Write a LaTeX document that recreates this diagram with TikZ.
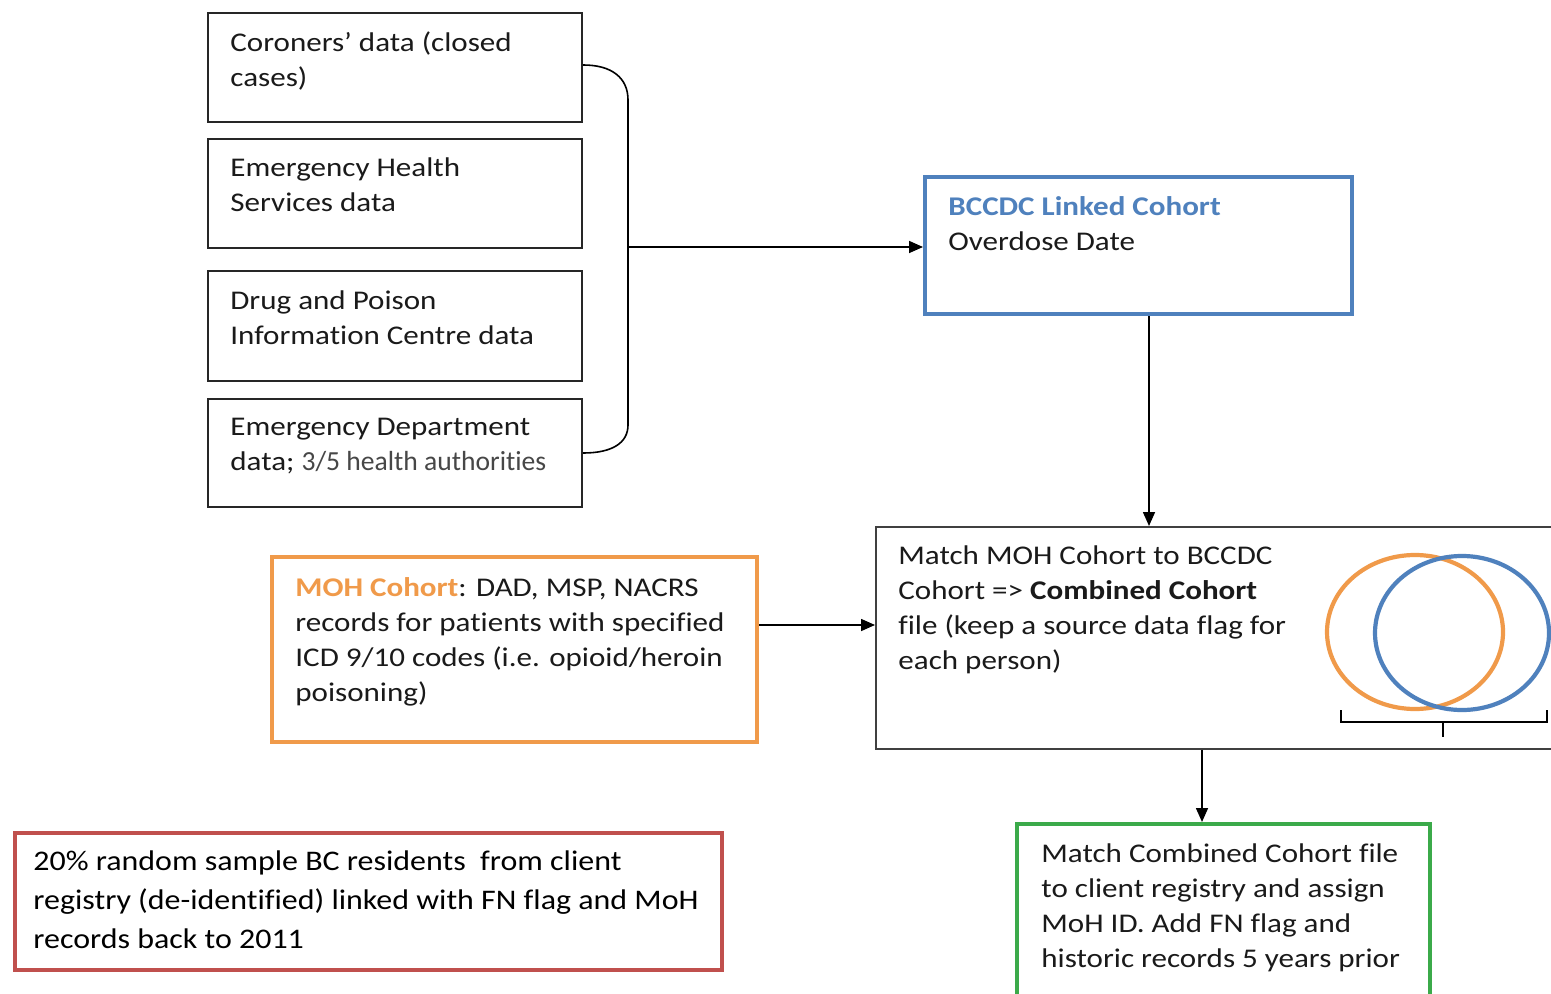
\documentclass[tikz,border=0pt]{standalone}
\usepackage{fontspec}
\setmainfont[Ligatures={NoCommon}]{Carlito}
\newfontfamily\boxfont[FakeStretch=1.15,Ligatures={NoCommon}]{Carlito}
\newfontfamily\redfont[FakeStretch=1.125,Ligatures={NoCommon}]{Carlito}
\newfontfamily\plainfont[Ligatures={NoCommon}]{Carlito}
\usetikzlibrary{arrows.meta}
\definecolor{cblue}{HTML}{4F81BD}
\definecolor{corange}{HTML}{F09A4A}
\definecolor{cgreen}{HTML}{3BAA4A}
\definecolor{cred}{HTML}{C0504D}
\definecolor{ctxt}{HTML}{1A1A1A}
\tikzset{
  srcbox/.style={draw=black!85, line width=1.1pt, inner sep=0pt, anchor=north west},
  colbox/.style={draw=#1, line width=2.1pt, inner sep=0pt, anchor=north west},
  txt/.style={anchor=north west, inner sep=0pt, align=left, text=ctxt,
    font=\boxfont\fontsize{13.5pt}{17.5pt}\selectfont},
  bigtxt/.style={anchor=north west, inner sep=0pt, align=left, text=black,
    font=\redfont\fontsize{14.2pt}{19.5pt}\selectfont},
  conn/.style={line width=0.8pt, black},
  arr/.style={conn, -{Triangle[length=7pt,width=6pt]}},
}
\begin{document}
\begin{tikzpicture}[x=0.5pt,y=-0.5pt]
\useasboundingbox[fill=white] (0,0) rectangle (1551,994);
% source boxes
\node[srcbox, minimum width=187pt, minimum height=54.5pt] (b1) at (207,12) {};
\node[srcbox, minimum width=187pt, minimum height=54.5pt] (b2) at (207,138) {};
\node[srcbox, minimum width=187pt, minimum height=55pt] (b3) at (207,270) {};
\node[srcbox, minimum width=187pt, minimum height=54pt] (b4) at (207,398) {};
\node[txt] (t1) at (230,31) {Coroners’ data (closed\\cases)};
\node[txt] (t2) at (230,157) {Emergency Health\\Services data};
\node[txt] (t3) at (230,290) {Drug and Poison\\Information Centre data};
\node[txt] (t4) at (230,418) {Emergency Department\\data; {\plainfont\fontsize{13.8pt}{17.5pt}\selectfont\color{black!72}3/5 health authorities}};
% BCCDC
\node[colbox=cblue, minimum width=213.5pt, minimum height=68.5pt] (bc) at (923,175) {};
\node[txt] (tbc) at (948,196) {{\bfseries\color{cblue}BCCDC Linked Cohort}\\Overdose Date};
% combined
\node[srcbox, draw=black!75, line width=0.9pt, minimum width=345pt, minimum height=111pt] (cc) at (875,526) {};
\node[txt] (tcc) at (898,545) {Match MOH Cohort to BCCDC\\Cohort => \textbf{Combined Cohort}\\file (keep a source data flag for\\each person)};
% MOH
\node[colbox=corange, minimum width=242.5pt, minimum height=92.5pt] (moh) at (270,555) {};
\node[txt] (tmoh) at (295,577) {{\bfseries\color{corange}MOH Cohort}: DAD, MSP, NACRS\\records for patients with specified\\ICD 9/10 codes (i.e. opioid/heroin\\poisoning)};
% green
\node[colbox=cgreen, minimum width=206.5pt, minimum height=90pt] (gr) at (1015,822) {};
\node[txt] (tgr) at (1041,843) {Match Combined Cohort file\\to client registry and assign\\MoH ID. Add FN flag and\\historic records 5 years prior};
% red
\node[colbox=cred, minimum width=353.5pt, minimum height=68.5pt] (rd) at (13,831) {};
\node[bigtxt] (trd) at (33,850) {20\% random sample BC residents~ from client\\registry (de-identified) linked with FN flag and MoH\\records back to 2011};
% venn
\draw[corange, line width=2.1pt] (1415,632) ellipse [x radius=44pt, y radius=38.5pt];
\draw[cblue, line width=2.1pt] (1462,633) ellipse [x radius=43.5pt, y radius=38.5pt];
\draw[conn, line width=0.7pt] (1341,710) -- (1341,722) -- (1547,722) -- (1547,710);
\draw[conn, line width=0.7pt] (1443,722) -- (1443,737);
% bracket connector
\coordinate (bj) at (628,247);
\draw[conn] (b1.east |- 0,65) .. controls (612,65) and (628,78) .. (628,100)
  -- (628,425) .. controls (628,443) and (612,453) .. (b4.east |- 0,453);
\draw[arr] (bj) -- (bc.west |- bj);
\draw[arr] (bc.south -| 1149,0) -- (cc.north -| 1149,0);
\draw[arr] (moh.east |- 0,625) -- (cc.west |- 0,625);
\draw[arr] (cc.south -| 1202,0) -- (gr.north -| 1202,0);
\end{tikzpicture}
\end{document}
